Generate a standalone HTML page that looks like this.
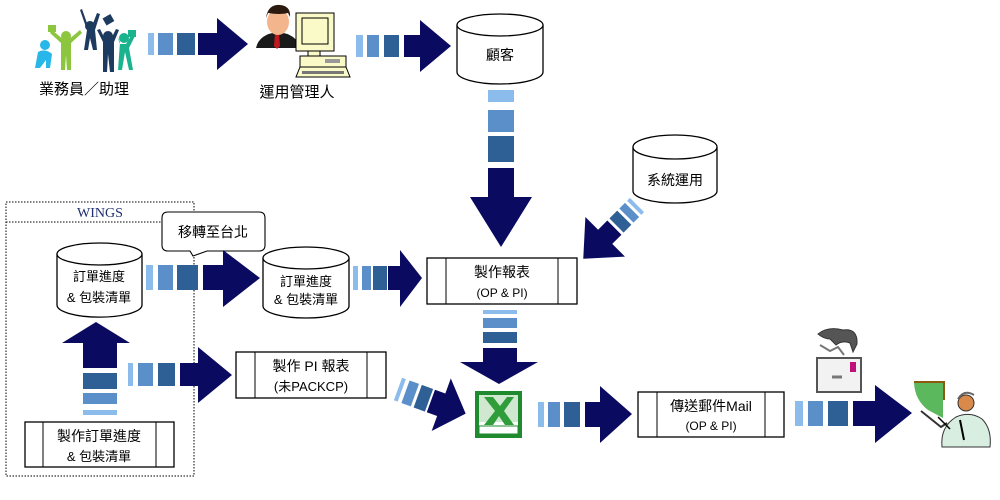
<!DOCTYPE html>
<html><head><meta charset="utf-8"><style>
html,body{margin:0;padding:0;background:#fff;}
svg{display:block;}
text{font-family:"Liberation Sans","Noto Sans CJK TC",sans-serif;fill:#000;}
</style></head><body>
<svg width="1000" height="500" viewBox="0 0 1000 500" xmlns="http://www.w3.org/2000/svg">
<defs>
<style>.l{fill:#8cbcec}.m{fill:#5b8fc9}.d{fill:#2e5f95}.n{fill:#0a0a60}.bx{fill:#fff;stroke:#000;stroke-width:1.3}</style>
</defs>

<!-- WINGS box -->
<rect x="6" y="202" width="188" height="274" fill="none" stroke="#000" stroke-dasharray="1.5,1.5"/>
<line x1="6" y1="222" x2="194" y2="222" stroke="#000" stroke-dasharray="1.5,1.5"/>
<text x="100" y="217" text-anchor="middle" style="font-family:'Liberation Serif',serif;font-size:14px;fill:#1f2f6f">WINGS</text>

<!-- People group icon -->
<g>
<circle cx="45" cy="45" r="5" fill="#29b6e8"/><path d="M38,52 q7,-4 14,2 l-2,14 -4,0 0,-8 -6,8 -5,0 z" fill="#29b6e8"/>
<circle cx="66" cy="36" r="5" fill="#8cc63f"/><path d="M52,30 l12,10 4,0 12,-10 2,3 -11,10 0,27 -4,0 -1,-15 -1,15 -4,0 0,-27 -11,-10z" fill="#8cc63f"/>
<rect x="48" y="25" width="8" height="7" fill="#8cc63f"/>
<circle cx="90" cy="26" r="5" fill="#1d3a5f"/><path d="M80,10 l7,20 -3,20 4,0 2,-12 3,12 4,0 -2,-20 5,-16 -3,-1 -5,13 -4,0 -6,-17z" fill="#1d3a5f"/>
<rect x="104" y="16" width="9" height="8" fill="#1d3a5f" transform="rotate(-30 108 20)"/>
<circle cx="108" cy="36" r="5" fill="#1d3a5f"/><path d="M97,30 l6,12 0,30 4,0 1,-18 2,18 4,0 0,-30 5,-12 -3,-1 -5,10 -6,0 -5,-10z" fill="#1d3a5f"/>
<circle cx="124" cy="38" r="5" fill="#1ab38e"/><path d="M116,34 l4,8 -2,28 4,0 3,-18 4,18 4,0 -4,-22 6,-12 -3,-2 -6,10 -6,0 -3,-8z" fill="#1ab38e"/>
<rect x="128" y="30" width="8" height="7" fill="#1ab38e"/>
</g>
<text x="84" y="94" text-anchor="middle" style="font-size:15px">業務員／助理</text>

<!-- Manager icon -->
<g>
<path d="M256,48 q3,-14 22,-16 q19,2 22,16z" fill="#1a1a1a"/>
<path d="M275,34 l4,0 1,12 -3,3 -3,-3z" fill="#c0181e"/>
<ellipse cx="278" cy="22" rx="11" ry="13" fill="#f3b58c"/>
<path d="M266,18 q2,-14 14,-13 q11,1 10,12 l-2,-4 q-8,2 -20,0z" fill="#2a1a10"/>
<rect x="296" y="13" width="38" height="38" fill="#fafac8" stroke="#000"/>
<rect x="302" y="18" width="26" height="26" fill="#fafac8" stroke="#000"/>
<rect x="308" y="51" width="12" height="5" fill="#fafac8" stroke="#000"/>
<rect x="300" y="56" width="46" height="11" fill="#fafac8" stroke="#000"/>
<rect x="325" y="59" width="15" height="4" fill="#999"/>
<path d="M300,67 l46,0 4,10 -54,0z" fill="#fafac8" stroke="#000"/>
<rect x="302" y="71" width="42" height="3" fill="#777"/>
</g>
<text x="297" y="97" text-anchor="middle" style="font-size:15px">運用管理人</text>

<!-- Arrow 1 -->
<rect class="l" x="148" y="33" width="6" height="22"/><rect class="m" x="158" y="33" width="15" height="22"/><rect class="d" x="177" y="33" width="18" height="22"/>
<path class="n" d="M198,33H217V18L248,44L217,70V55H198Z"/>
<!-- Arrow 2 -->
<rect class="l" x="356" y="35" width="7" height="22"/><rect class="m" x="367" y="35" width="12" height="22"/><rect class="d" x="384" y="35" width="15" height="22"/>
<path class="n" d="M404,35H420V20L451,46L420,72V57H404Z"/>

<!-- 顧客 cylinder -->
<path class="bx" d="M457,25 V72 A43,12 0 0 0 543,72 V25"/>
<ellipse class="bx" cx="500" cy="25" rx="43" ry="11"/>
<text x="500" y="60" text-anchor="middle" style="font-size:14px">顧客</text>

<!-- Down arrow from 顧客 -->
<rect class="l" x="488" y="90" width="26" height="12"/><rect class="m" x="488" y="110" width="26" height="22"/><rect class="d" x="488" y="136" width="26" height="26"/>
<path class="n" d="M488,168H514V197H532L501,247L470,197H488Z"/>

<!-- 系統運用 cylinder -->
<path class="bx" d="M633,147 V191 A42,12 0 0 0 717,191 V147"/>
<ellipse class="bx" cx="675" cy="147" rx="42" ry="12"/>
<text x="675" y="185" text-anchor="middle" style="font-size:14px">系統運用</text>

<!-- Diagonal arrow from 系統運用 -->
<g transform="translate(637,205) rotate(135)">
<rect class="l" x="0" y="-10" width="4" height="20"/><rect class="m" x="7" y="-10" width="8" height="20"/><rect class="d" x="18" y="-10" width="11" height="20"/>
<path class="n" d="M32,-10H45V-28L76,0L45,28V10H32Z"/>
</g>

<!-- 製作報表 box -->
<rect class="bx" x="427" y="258" width="150" height="46"/>
<line x1="446" y1="258" x2="446" y2="304" stroke="#000"/><line x1="558" y1="258" x2="558" y2="304" stroke="#000"/>
<text x="502" y="277" text-anchor="middle" style="font-size:14px">製作報表</text>
<text x="502" y="297" text-anchor="middle" style="font-size:12px">(OP &amp; PI)</text>

<!-- Cylinder 1 -->
<path class="bx" d="M57,254 V305 A42,12 0 0 0 142,305 V254"/>
<ellipse class="bx" cx="99.5" cy="254" rx="42.5" ry="11"/>
<text x="99" y="281" text-anchor="middle" style="font-size:13px">訂單進度</text>
<text x="99" y="302" text-anchor="middle" style="font-size:13px">&amp; 包裝清單</text>

<!-- Callout -->
<path d="M168,212 H259 Q265,212 265,218 V245 Q265,251 259,251 H207 L193,256 L190,251 H168 Q162,251 162,245 V218 Q162,212 168,212Z" fill="#fff" stroke="#000" stroke-width="1.1"/>
<text x="213" y="237" text-anchor="middle" style="font-size:14px">移轉至台北</text>

<!-- Arrow cyl1 -> cyl2 -->
<rect class="l" x="146" y="265" width="7" height="25"/><rect class="m" x="158" y="265" width="15" height="25"/><rect class="d" x="177" y="265" width="21" height="25"/>
<path class="n" d="M203,265H223V250L260,278L223,307V290H203Z"/>

<!-- Cylinder 2 -->
<path class="bx" d="M263,258 V306 A43,12 0 0 0 349,306 V258"/>
<ellipse class="bx" cx="306" cy="258" rx="43" ry="11"/>
<text x="306" y="286" text-anchor="middle" style="font-size:13px">訂單進度</text>
<text x="306" y="304" text-anchor="middle" style="font-size:13px">&amp; 包裝清單</text>

<!-- Arrow cyl2 -> box -->
<rect class="l" x="353" y="266" width="5" height="24"/><rect class="m" x="362" y="266" width="9" height="24"/><rect class="d" x="373" y="266" width="14" height="24"/>
<path class="n" d="M388,266H400V250L422,278L400,307V290H388Z"/>

<!-- Down arrow to Excel -->
<rect class="l" x="483" y="310" width="34" height="4"/><rect class="m" x="483" y="318" width="34" height="10"/><rect class="d" x="483" y="332" width="34" height="11"/>
<path class="n" d="M483,348H517V362H538L499,384L460,362H483Z"/>

<!-- Up arrow in WINGS -->
<rect class="l" x="83" y="410" width="34" height="5"/><rect class="m" x="83" y="393" width="34" height="11"/><rect class="d" x="83" y="373" width="34" height="16"/>
<path class="n" d="M83,368V343H62L96,322L130,343H117V368Z"/>

<!-- Bottom box -->
<rect class="bx" x="25" y="422" width="149" height="45"/>
<line x1="43" y1="422" x2="43" y2="467" stroke="#000"/><line x1="156" y1="422" x2="156" y2="467" stroke="#000"/>
<text x="99" y="441" text-anchor="middle" style="font-size:14px">製作訂單進度</text>
<text x="99" y="461" text-anchor="middle" style="font-size:13px">&amp; 包裝清單</text>

<!-- Arrow to PI box -->
<rect class="l" x="128" y="363" width="5" height="23"/><rect class="m" x="138" y="363" width="15" height="23"/><rect class="d" x="158" y="363" width="17" height="23"/>
<path class="n" d="M180,363H198V347L232,375L198,403V386H180Z"/>

<!-- PI box -->
<rect class="bx" x="236" y="352" width="150" height="46"/>
<line x1="255" y1="352" x2="255" y2="398" stroke="#000"/><line x1="367" y1="352" x2="367" y2="398" stroke="#000"/>
<text x="311" y="371" text-anchor="middle" style="font-size:14px">製作 PI 報表</text>
<text x="311" y="391" text-anchor="middle" style="font-size:13px">(未PACKCP)</text>

<!-- Diagonal arrow to Excel -->
<g transform="translate(398,389) rotate(20)">
<rect class="l" x="0" y="-12" width="4" height="24"/><rect class="m" x="8" y="-12" width="10" height="24"/><rect class="d" x="21" y="-12" width="12" height="24"/>
<path class="n" d="M35,-12H46V-28L72,0L46,28V12H35Z"/>
</g>

<!-- Excel icon -->
<rect x="475" y="391" width="47" height="47" fill="#1f8a2e"/>
<rect x="479" y="395" width="39" height="39" fill="#fff"/>
<rect x="479" y="395" width="39" height="27" fill="#cfe8cf"/>
<path d="M484,397 L493,397 L500,406 L507,397 L514,397 L504,411 L514,425 L505,425 L499,416 L493,425 L484,425 L495,411Z" fill="#2f9e3a"/>
<rect x="479" y="426" width="39" height="8" fill="#fff" stroke="#1f8a2e"/>

<!-- Arrow Excel -> mail box -->
<rect class="l" x="538" y="402" width="6" height="25"/><rect class="m" x="548" y="402" width="12" height="25"/><rect class="d" x="564" y="402" width="16" height="25"/>
<path class="n" d="M585,402H600V386L632,414L600,443V427H585Z"/>

<!-- Mail box -->
<rect class="bx" x="638" y="392" width="146" height="45"/>
<line x1="657" y1="392" x2="657" y2="437" stroke="#000"/><line x1="765" y1="392" x2="765" y2="437" stroke="#000"/>
<text x="711" y="411" text-anchor="middle" style="font-size:14px">傳送郵件Mail</text>
<text x="711" y="430" text-anchor="middle" style="font-size:12px">(OP &amp; PI)</text>

<!-- Mail icon -->
<g>
<path d="M818,334 q10,-8 25,-4 q15,-2 14,14 l-4,8 -3,-9 q-8,-3 -14,2 l-6,-6 q-6,0 -12,-5z" fill="#555" stroke="#333"/>
<path d="M820,345 l10,6 8,-4 6,8" fill="none" stroke="#777" stroke-width="2"/>
<rect x="817" y="358" width="44" height="34" fill="#f2f2f2" stroke="#555" stroke-width="2"/>
<rect x="850" y="362" width="6" height="10" fill="#c0107a"/>
<path d="M832,377 l10,0" stroke="#777" stroke-width="3"/>
</g>

<!-- Arrow mail -> presenter -->
<rect class="l" x="795" y="401" width="8" height="25"/><rect class="m" x="808" y="401" width="15" height="25"/><rect class="d" x="828" y="401" width="20" height="25"/>
<path class="n" d="M853,401H875V385L912,413L875,443V426H853Z"/>

<!-- Presenter -->
<g>
<path d="M914,383 H943 V418 L928,410 Q915,400 914,383Z" fill="#5cb85c"/>
<path d="M914,382 H944 V400" fill="none" stroke="#8a5a10" stroke-width="2"/>
<path d="M942,447 q-2,-20 14,-30 q14,-6 26,2 q10,10 8,28z" fill="#d8eee0" stroke="#333"/>
<circle cx="966" cy="403" r="8" fill="#d98a4a" stroke="#333"/>
<path d="M958,399 q6,-10 16,-4" fill="none" stroke="#666" stroke-width="2"/>
<path d="M921,411 l20,16 6,-4" fill="none" stroke="#333" stroke-width="2"/>
<path d="M938,417 l12,12" stroke="#000" stroke-width="1.5"/>
<path d="M960,420 l4,20" stroke="#000" stroke-width="2"/>
</g>
</svg>
</body></html>
